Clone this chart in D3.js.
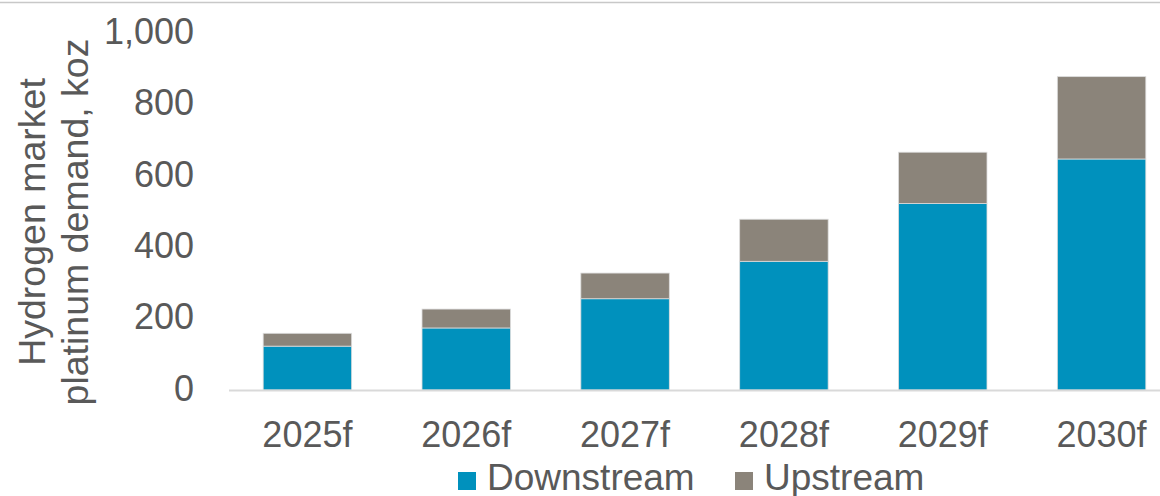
<!DOCTYPE html>
<html>
<head>
<meta charset="utf-8">
<script src="https://cdn.jsdelivr.net/npm/d3@7"></script>
<style>
  html, body { margin: 0; padding: 0; background: #fff; }
  svg { display: block; }
  text { font-family: "Liberation Sans", Arial, sans-serif; fill: #595959; }
</style>
</head>
<body>
<svg id="chart"></svg>
<script>
// ── Data ─────────────────────────────────────────────────────────────────────
const years      = ['2025f', '2026f', '2027f', '2028f', '2029f', '2030f'];
const downstream = [123, 174, 256, 361, 523, 648];
const upstream   = [36, 53, 72, 118, 144, 231];
const yTicks     = [0, 200, 400, 600, 800, 1000];
const seriesNames  = ['Downstream', 'Upstream'];
const seriesColors = ['#0091bd', '#8b847a'];

const W = 1160, H = 496;
const svg = d3.select('#chart').attr('width', W).attr('height', H);

// ── Scales ───────────────────────────────────────────────────────────────────
const x = d3.scaleBand().domain(years).range([228, 1181])
    .paddingInner(0.443).paddingOuter(0.2215);
const y = d3.scaleLinear().domain([0, 1000]).range([390, 33.5]);

const rows = years.map((yr, i) => ({ year: yr, Downstream: downstream[i], Upstream: upstream[i] }));
const stacked = d3.stack().keys(seriesNames)(rows);

// thin rule along the top
svg.append('line').attr('x1', 0).attr('x2', W).attr('y1', 2.5).attr('y2', 2.5)
    .attr('stroke', '#c8c8c8').attr('stroke-width', 1.5);

// ── Bars ─────────────────────────────────────────────────────────────────────
svg.append('g').selectAll('g').data(stacked).join('g')
    .attr('fill', (d, i) => seriesColors[i])
    .selectAll('rect').data(d => d).join('rect')
    .attr('x', d => x(d.data.year))
    .attr('width', x.bandwidth())
    .attr('y', d => y(d[1]))
    .attr('height', d => y(d[0]) - y(d[1]))
    .attr('stroke', '#dcdcdc').attr('stroke-width', 0.8);

// baseline
svg.append('line').attr('x1', 229).attr('x2', W).attr('y1', y(0) + 0.5).attr('y2', y(0) + 0.5)
    .attr('stroke', '#d9d9d9').attr('stroke-width', 2.2);

// ── Axes ─────────────────────────────────────────────────────────────────────
const yAxis = svg.append('g').attr('transform', 'translate(194,-1.5)')
    .call(d3.axisLeft(y).tickValues(yTicks).tickFormat(d3.format(',')).tickSize(0).tickPadding(0));
yAxis.select('.domain').remove();
yAxis.selectAll('text').style('font-size', '36px').attr('fill', '#595959');

svg.append('g').selectAll('text').data(years).join('text')
    .attr('x', d => x(d) + x.bandwidth() / 2)
    .attr('y', 447)
    .attr('text-anchor', 'middle')
    .style('font-size', '36px')
    .text(d => d);

// y title
const title = svg.append('g').attr('transform', 'translate(0,222) rotate(-90)');
title.append('text').attr('x', 0).attr('y', 45).attr('text-anchor', 'middle')
    .style('font-size', '37.5px').text('Hydrogen market');
title.append('text').attr('x', 0).attr('y', 88).attr('text-anchor', 'middle')
    .style('font-size', '37.5px').text('platinum demand, koz');

// ── Legend ───────────────────────────────────────────────────────────────────
const legendX = [458, 735];
const legend = svg.append('g').selectAll('g').data(seriesNames).join('g')
    .attr('transform', (d, i) => `translate(${legendX[i]},0)`);
legend.append('rect').attr('x', 0).attr('y', 472).attr('width', 18).attr('height', 18)
    .attr('fill', (d, i) => seriesColors[i]);
legend.append('text').attr('x', 29).attr('y', 490).style('font-size', '37px').text(d => d);
</script>
</body>
</html>
